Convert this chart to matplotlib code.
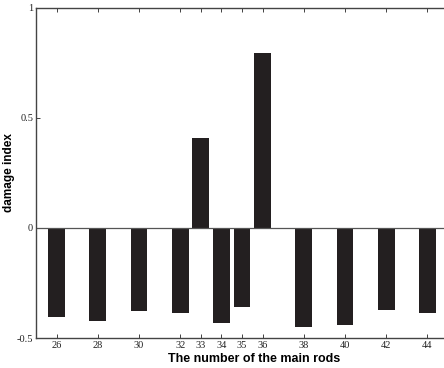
import numpy as np
import matplotlib
matplotlib.use('Agg')
import matplotlib.pyplot as plt

# rod numbers and damage index
rods = [26, 28, 30, 32, 33, 34, 35, 36, 38, 40, 42, 44]
damage = [-0.405, -0.423, -0.377, -0.386, 0.409, -0.432, -0.359, 0.795,
          -0.450, -0.441, -0.373, -0.386]
yticks = [-0.5, 0, 0.5, 1]
ytick_labels = ['-0.5', '0', '0.5', '1']

fig = plt.figure(figsize=(4.44, 3.68), dpi=100)
ax = fig.add_axes([0.081, 0.0815, 0.928, 0.897])

ax.bar(rods, damage, width=0.82, color='#231f20')
ax.axhline(0, color='#555555', lw=0.9)

ax.set_xlim(25, 45)
ax.set_ylim(-0.5, 1)
ax.set_xticks(rods)
ax.set_xticklabels([str(r) for r in rods], family='Liberation Serif', fontsize=7.5)
ax.set_yticks(yticks)
ax.set_yticklabels(ytick_labels, family='Liberation Serif', fontsize=7.5)
ax.tick_params(direction='in', length=3, width=0.6, pad=2, top=True, colors='#222222')

for s in ax.spines.values():
    s.set_color('#444444')
    s.set_linewidth(1.0)

ax.set_ylabel('damage index', family='Liberation Sans', fontsize=8.5,
              weight='bold', labelpad=1)
ax.set_xlabel('The number of the main rods', family='Liberation Sans',
              fontsize=9, weight='bold')
ax.xaxis.set_label_coords(0.53, -0.045)

fig.savefig('out.png', dpi=100)
